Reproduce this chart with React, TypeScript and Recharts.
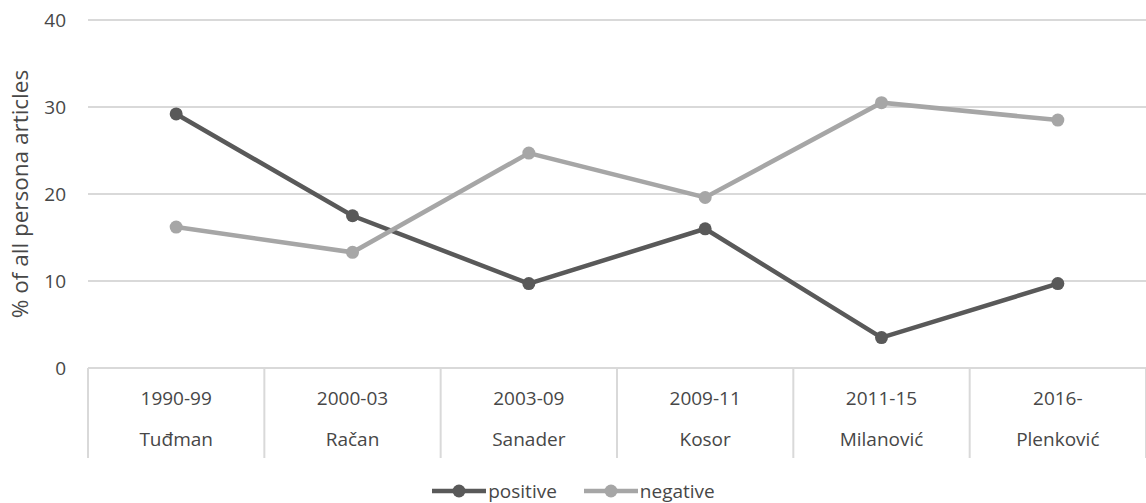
import React from 'react';
import { ComposedChart, Line, XAxis, YAxis, CartesianGrid, Legend } from 'recharts';

const periods = ['1990-99', '2000-03', '2003-09', '2009-11', '2011-15', '2016-'];
const leaders = ['Tuđman', 'Račan', 'Sanader', 'Kosor', 'Milanović', 'Plenković'];
const positive = [29.2, 17.5, 9.7, 16.0, 3.5, 9.7];
const negative = [16.2, 13.3, 24.7, 19.6, 30.5, 28.5];
const yTicks = [0, 10, 20, 30, 40];

const data = periods.map((period, i) => ({
  period,
  leader: leaders[i],
  positive: positive[i],
  negative: negative[i],
}));

const series = [
  { key: 'positive', color: '#595959' },
  { key: 'negative', color: '#a6a6a6' },
];

const W = 1146;
const H = 503;
const Y_AXIS_W = 88;
const BAND = (W - Y_AXIS_W) / periods.length;
const TEXT = '#474747';
const GRID = '#d9d9d9';
const FONT = '"Open Sans", Lato, sans-serif';
const FS = 19;

// two-row category label with the boxes between periods
const PeriodTick = ({ x, y, payload, index }: any) => {
  const left = x - BAND / 2;
  return (
    <g>
      <line x1={left} y1={y} x2={left} y2={y + 90} stroke={GRID} strokeWidth={2} />
      {index === periods.length - 1 && (
        <line x1={left + BAND} y1={y} x2={left + BAND} y2={y + 90} stroke={GRID} strokeWidth={2} />
      )}
      <text x={x} y={y + 37} textAnchor="middle" fill={TEXT} fontSize={FS} fontFamily={FONT}>
        {payload.value}
      </text>
      <text x={x} y={y + 78} textAnchor="middle" fill={TEXT} fontSize={FS} fontFamily={FONT}>
        {leaders[index]}
      </text>
    </g>
  );
};

const YLabel = ({ viewBox }: any) => {
  const cx = 19;
  const cy = viewBox.y + viewBox.height / 2;
  return (
    <text
      x={cx}
      y={cy}
      transform={`rotate(-90 ${cx} ${cy})`}
      textAnchor="middle"
      dominantBaseline="central"
      fill={TEXT}
      fontSize={22.5}
      fontFamily={FONT}
    >
      % of all persona articles
    </text>
  );
};

const LegendContent = () => (
  <div
    style={{
      display: 'flex',
      justifyContent: 'center',
      gap: 26,
      paddingTop: 20,
      fontFamily: FONT,
      fontSize: FS,
      color: TEXT,
    }}
  >
    {series.map((s) => (
      <div key={s.key} style={{ display: 'flex', alignItems: 'center' }}>
        <svg width={56} height={16} style={{ marginRight: 1 }}>
          <line x1={1} y1={8} x2={55} y2={8} stroke={s.color} strokeWidth={4.5} />
          <circle cx={28} cy={8} r={6.5} fill={s.color} />
        </svg>
        <span>{s.key}</span>
      </div>
    ))}
  </div>
);

export default function App() {
  return (
    <div style={{ position: 'absolute', left: 0, top: 0, width: W, height: H, background: '#fff' }}>
      <ComposedChart width={W} height={H} data={data} margin={{ top: 20, right: 0, bottom: 4, left: 0 }}>
        <CartesianGrid vertical={false} stroke={GRID} strokeWidth={2} />
        <XAxis
          dataKey="period"
          scale="band"
          axisLine={{ stroke: GRID, strokeWidth: 2 }}
          tickLine={false}
          tickSize={0}
          tickMargin={0}
          height={90}
          interval={0}
          tick={<PeriodTick />}
        />
        <YAxis
          width={Y_AXIS_W}
          domain={[0, 40]}
          ticks={yTicks}
          axisLine={false}
          tickLine={false}
          tickMargin={16}
          tick={{ fill: TEXT, fontSize: FS, fontFamily: FONT }}
          label={<YLabel />}
        />
        <Legend verticalAlign="bottom" height={41} content={<LegendContent />} />
        {series.map((s) => (
          <Line
            key={s.key}
            dataKey={s.key}
            name={s.key}
            stroke={s.color}
            strokeWidth={4.5}
            dot={{ r: 6.5, fill: s.color, stroke: 'none' }}
            activeDot={false}
            isAnimationActive={false}
          />
        ))}
      </ComposedChart>
    </div>
  );
}
